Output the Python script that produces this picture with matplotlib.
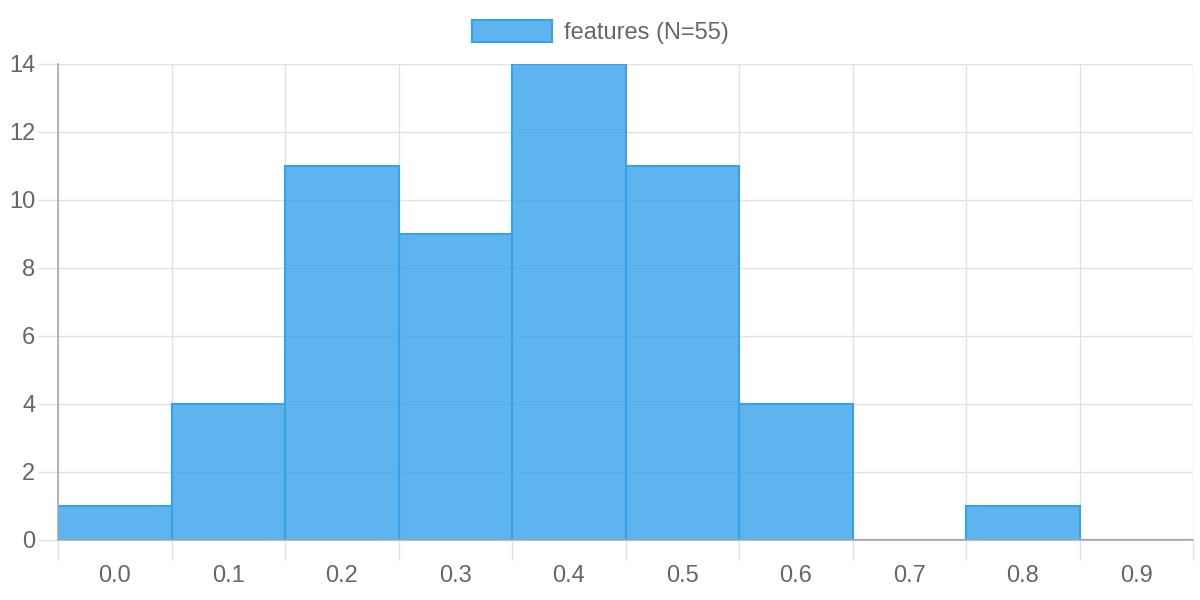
import matplotlib
matplotlib.use("Agg")
import matplotlib.pyplot as plt
from matplotlib.patches import Patch
import numpy as np

categories = ["0.0", "0.1", "0.2", "0.3", "0.4", "0.5", "0.6", "0.7", "0.8", "0.9"]
counts = [1, 4, 11, 9, 14, 11, 4, 0, 1, 0]
series_label = "features (N=55)"

plt.rcParams['font.family'] = ['Liberation Sans', 'DejaVu Sans']
text_color = "#666666"
grid_color = "#e2e2e2"
axis_color = "#aaaaaa"
fill = (54/255, 162/255, 235/255, 0.8)
edge = "#36a2eb"

fig = plt.figure(figsize=(12, 6), dpi=100)
ax = fig.add_axes([58/1200, 1 - 540/600, (1193 - 58)/1200, (540 - 64)/600])

x = np.arange(len(categories))
ax.bar(x, counts, width=1.0, color=fill, edgecolor=edge, linewidth=1.5, zorder=3)

ax.set_xlim(-0.5, len(categories) - 0.5)
ax.set_ylim(0, 14)

ax.set_xticks(x)
ax.set_xticklabels(categories)
ax.set_xticks(np.arange(-0.5, len(categories)), minor=True)
ax.tick_params(axis='x', which='major', length=0, pad=18, labelsize=17, labelcolor=text_color)
ax.tick_params(axis='x', which='minor', length=14.4, width=1, color=grid_color)

ax.set_yticks(np.arange(0, 15, 2))
ax.tick_params(axis='y', which='major', length=14.4, width=1, color=grid_color, pad=2, labelsize=17, labelcolor=text_color)

ax.grid(True, axis='y', which='major', color=grid_color, linewidth=1, zorder=0)
ax.grid(True, axis='x', which='minor', color=grid_color, linewidth=1, zorder=0)
ax.grid(False, axis='x', which='major')

for s in ['top', 'right']:
    ax.spines[s].set_visible(False)
for s in ['left', 'bottom']:
    ax.spines[s].set_color(axis_color)
    ax.spines[s].set_linewidth(1.2)
    ax.spines[s].set_zorder(4)

handle = Patch(facecolor=fill, edgecolor=edge, linewidth=1.5)
fig.legend([handle], [series_label], loc='center', bbox_to_anchor=(0.5, 1 - 32/600),
           frameon=False, fontsize=17, labelcolor=text_color,
           handlelength=3.4, handleheight=1.05, handletextpad=0.5)

fig.savefig("out.png", dpi=100)
